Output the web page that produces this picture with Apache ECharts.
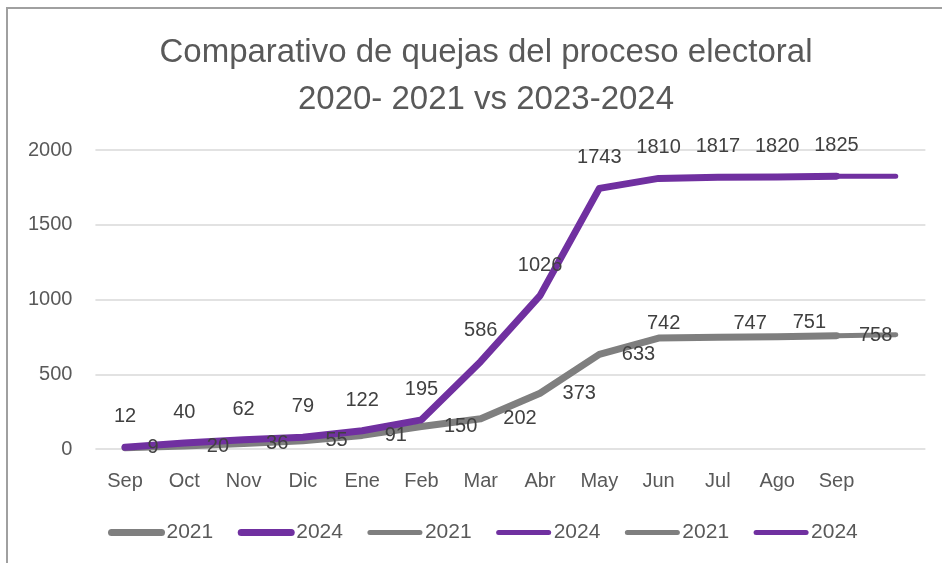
<!DOCTYPE html>
<html>
<head>
<meta charset="utf-8">
<script src="https://cdn.jsdelivr.net/npm/echarts@6/dist/echarts.min.js"></script>
<style>
html,body{margin:0;padding:0;background:#fff;}
#chart{width:942px;height:563px;}
</style>
</head>
<body>
<div id="chart"></div>
<script>
const categories = ['Sep','Oct','Nov','Dic','Ene','Feb','Mar','Abr','May','Jun','Jul','Ago','Sep',''];
const values2021 = [9,20,36,55,91,150,202,373,633,742,747,751,758];
const values2024 = [12,40,62,79,122,195,586,1026,1743,1810,1817,1820,1825];
const values2021ext = [9,20,36,55,91,150,202,373,633,742,747,751,758,765];
const values2024ext = [12,40,62,79,122,195,586,1026,1743,1810,1817,1820,1825,1825];
const yTicks = [0,500,1000,1500,2000];
const titleLines = ['Comparativo de quejas del proceso electoral','2020- 2021 vs 2023-2024'];
const legendNames = ['2021','2024','2021 ','2024 ','2021  ','2024  '];

const GRAY = '#7f7f7f';
const PURPLE = '#7030a0';
const FONT = 'Liberation Sans, Arial, sans-serif';
const CLEAR = 'rgba(0,0,0,0)';

// per-point label placement for 2021 series (as in reference)
const pos2021 = values2021.map((v, i) => {
  if (i === 9) return {position: 'top', distance: 4, offset: [5, 0]};
  if (i === 10 || i === 11) return {position: 'right', distance: 15, offset: [0, -14]};
  return {position: 'right', distance: 22};
});

const hiddenSym = {symbol: 'circle', symbolSize: 1, showSymbol: true};

function lineSeries(name, data, color, width, z) {
  return {
    name: name, type: 'line', data: data, symbol: 'none', z: z,
    lineStyle: {color: color, width: width, cap: 'round', join: 'round'}, itemStyle: {color: color}
  };
}

const chart = echarts.init(document.getElementById('chart'), null, {renderer: 'canvas'});
chart.setOption({
  backgroundColor: '#ffffff',
  animation: false,
  graphic: [{
    type: 'rect',
    shape: {x: 7, y: 8, width: 1000, height: 700},
    style: {fill: 'none', stroke: '#a0a0a0', lineWidth: 2},
    silent: true
  }],
  title: {
    text: titleLines.join('\n'),
    left: 481,
    top: 24,
    textAlign: 'center',
    textStyle: {fontFamily: FONT, fontSize: 33, fontWeight: 'normal', color: '#595959', lineHeight: 47}
  },
  legend: {
    data: legendNames,
    left: 103,
    top: 517,
    itemWidth: 50,
    itemHeight: 8,
    itemGap: 24.5,
    formatter: n => n.trim(),
    itemStyle: {opacity: 0},
    lineStyle: {width: 'inherit', cap: 'round'},
    textStyle: {fontFamily: FONT, fontSize: 21, color: '#595959'}
  },
  grid: {left: 95.4, right: 16.6, top: 150, bottom: 114, containLabel: false},
  xAxis: {
    type: 'category',
    data: categories,
    boundaryGap: true,
    axisLine: {show: false},
    axisTick: {show: false},
    axisLabel: {fontFamily: FONT, fontSize: 20, color: '#595959', margin: 22, interval: 0}
  },
  yAxis: {
    type: 'value',
    min: yTicks[0],
    max: yTicks[yTicks.length - 1],
    interval: 500,
    axisLine: {show: false},
    axisTick: {show: false},
    axisLabel: {fontFamily: FONT, fontSize: 20, color: '#595959', margin: 23, formatter: v => String(v)},
    splitLine: {lineStyle: {color: '#d9d9d9', width: 1.5}}
  },
  series: [
    lineSeries(legendNames[2], values2021ext, GRAY, 5, 2),
    lineSeries(legendNames[3], values2024ext, PURPLE, 5, 2),
    lineSeries(legendNames[4], values2021, GRAY, 5, 2),
    lineSeries(legendNames[5], values2024, PURPLE, 5, 2),
    lineSeries(legendNames[0], values2021, GRAY, 7, 3),
    lineSeries(legendNames[1], values2024, PURPLE, 7, 4),
    Object.assign({
      name: 'labels2021', type: 'line', z: 10, silent: true,
      data: values2021.map((v, i) => ({value: v, label: pos2021[i]})),
      lineStyle: {color: CLEAR, width: 0}, itemStyle: {color: CLEAR, borderWidth: 0},
      label: {show: true, fontFamily: FONT, fontSize: 20, color: '#404040'}
    }, hiddenSym),
    Object.assign({
      name: 'labels2024', type: 'line', z: 10, silent: true,
      data: values2024,
      lineStyle: {color: CLEAR, width: 0}, itemStyle: {color: CLEAR, borderWidth: 0},
      label: {show: true, position: 'top', distance: 20, fontFamily: FONT, fontSize: 20, color: '#404040'}
    }, hiddenSym)
  ]
});
</script>
</body>
</html>
